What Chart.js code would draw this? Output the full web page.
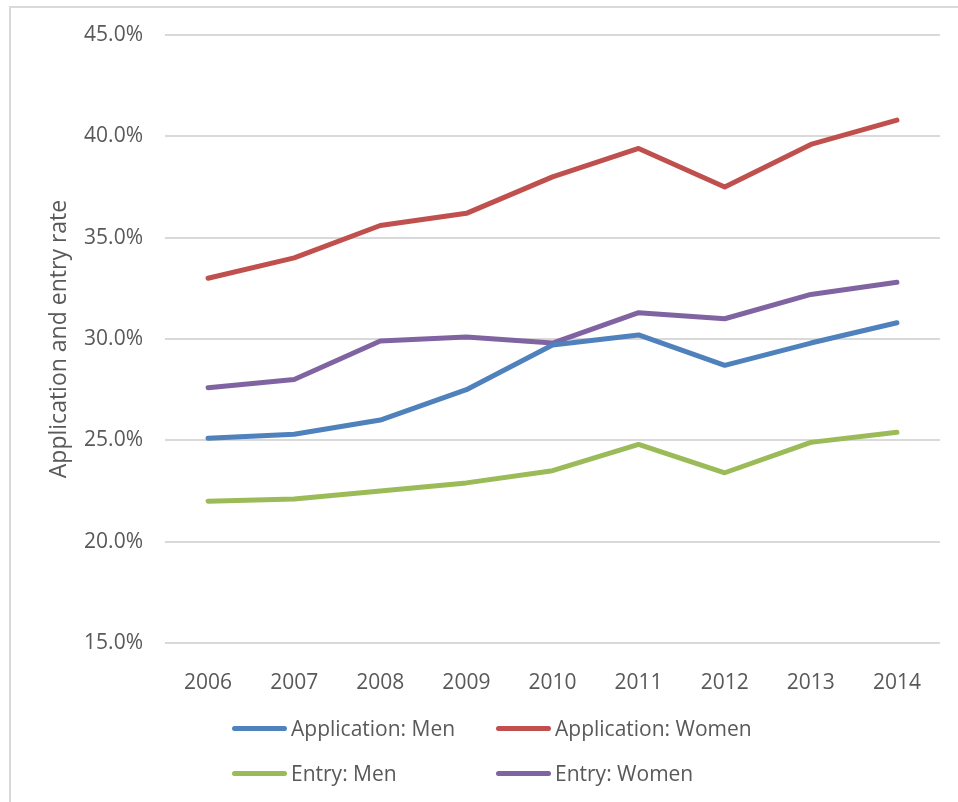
<!DOCTYPE html>
<html>
<head>
<meta charset="utf-8">
<script src="https://cdn.jsdelivr.net/npm/chart.js@4"></script>
<style>
  body { margin: 0; background: #fff; }
  #wrap { position: relative; width: 958px; height: 802px; overflow: hidden; }
  #frame { position: absolute; left: 9px; top: 6px; width: 980px; height: 830px; border: 2px solid #d9d9d9; }
  canvas { position: absolute; left: 0; top: 0; }
  #legend { position: absolute; left: 0; top: 0; font-family: "Open Sans", sans-serif; font-size: 21px; color: #595959; }
  .item { position: absolute; display: flex; align-items: center; white-space: nowrap; }
  .swatch { width: 55px; height: 5px; border-radius: 3px; margin-right: 4px; }
</style>
</head>
<body>
<div id="wrap">
  <div id="frame"></div>
  <canvas id="lineChart" width="958" height="802"></canvas>
  <div id="legend"></div>
</div>
<script>
const years = ["2006", "2007", "2008", "2009", "2010", "2011", "2012", "2013", "2014"];
const appMen = [25.1, 25.3, 26.0, 27.5, 29.7, 30.2, 28.7, 29.8, 30.8];
const appWomen = [33.0, 34.0, 35.6, 36.2, 38.0, 39.4, 37.5, 39.6, 40.8];
const entryMen = [22.0, 22.1, 22.5, 22.9, 23.5, 24.8, 23.4, 24.9, 25.4];
const entryWomen = [27.6, 28.0, 29.9, 30.1, 29.8, 31.3, 31.0, 32.2, 32.8];

const textColor = "#595959";
const font = { family: "'Open Sans', sans-serif", size: 21 };

function series(label, data, color) {
  return {
    label: label,
    data: data,
    borderColor: color,
    backgroundColor: color,
    borderWidth: 5,
    pointRadius: 0,
    tension: 0,
    borderCapStyle: "round",
    borderJoinStyle: "round"
  };
}

const chart = new Chart(document.getElementById("lineChart"), {
  type: "line",
  data: {
    labels: years,
    datasets: [
      series("Application: Men", appMen, "#4f81bd"),
      series("Application: Women", appWomen, "#c0504d"),
      series("Entry: Men", entryMen, "#9bbb59"),
      series("Entry: Women", entryWomen, "#8064a2")
    ]
  },
  options: {
    responsive: false,
    animation: false,
    layout: { padding: { left: 10, top: 35, right: 18, bottom: 109 } },
    plugins: {
      legend: { display: false },
      tooltip: { enabled: false }
    },
    scales: {
      x: {
        offset: true,
        grid: { display: false },
        border: { display: false },
        ticks: { color: textColor, font: font, padding: 19, maxRotation: 0 },
        afterFit: s => { s.height = 50; }
      },
      y: {
        min: 15,
        max: 45,
        grid: { color: "#d9d9d9", lineWidth: 2, drawTicks: false },
        border: { display: false },
        ticks: {
          stepSize: 5,
          color: textColor,
          font: font,
          padding: 22,
          callback: v => v.toFixed(1) + "%"
        },
        title: {
          display: true,
          text: "Application and entry rate",
          color: textColor,
          font: { family: font.family, size: 23 },
          padding: { top: 36, bottom: 0 }
        },
        afterFit: s => { s.width = 155; }
      }
    }
  }
});

// legend laid out 2 x 2 like the original
const legendPos = [[232, 728], [496, 728], [232, 773], [496, 773]];
const legendEl = document.getElementById("legend");
chart.data.datasets.forEach((ds, i) => {
  const item = document.createElement("div");
  item.className = "item";
  item.style.left = legendPos[i][0] + "px";
  item.style.top = (legendPos[i][1] - 14) + "px";
  item.style.height = "28px";
  item.innerHTML = '<span class="swatch" style="background:' + ds.borderColor + '"></span>' + ds.label;
  legendEl.appendChild(item);
});
</script>
</body>
</html>
